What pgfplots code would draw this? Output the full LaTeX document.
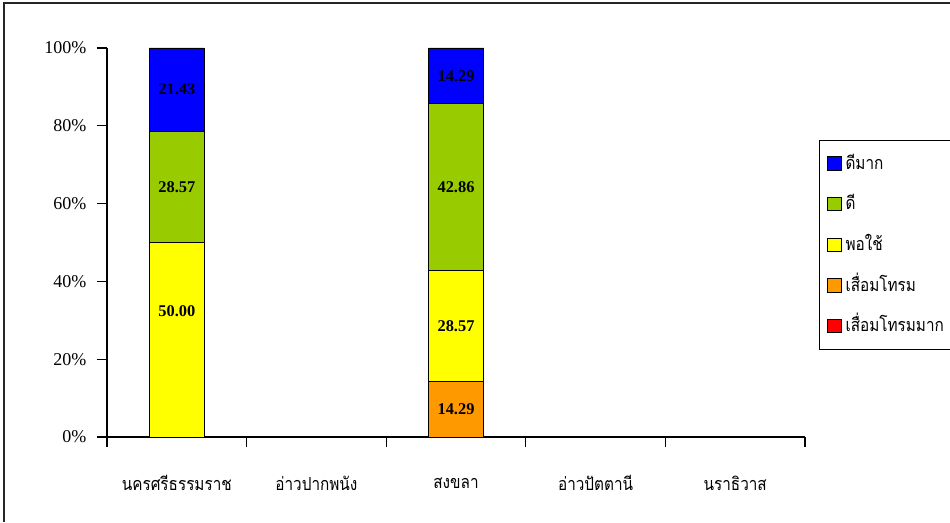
\documentclass[border=0pt]{standalone}
\usepackage{pgfplots}
\pgfplotsset{compat=1.18}
\usepackage{fontspec}
\setmainfont{Liberation Serif}
\newfontfamily\thaifont[Script=Thai, FakeStretch=0.85]{Loma}
\definecolor{cblue}{HTML}{0000FF}
\definecolor{cgreen}{HTML}{99CC00}
\definecolor{cyellow}{HTML}{FFFF00}
\definecolor{corange}{HTML}{FF9900}
\definecolor{cred}{HTML}{FF0000}
\begin{document}
\begin{tikzpicture}
\useasboundingbox (0,0) rectangle (712.5pt,391.5pt);
\draw[line width=1.2pt, black!85] (3pt,0pt) -- (3pt,389.25pt) -- (712.5pt,389.25pt);
\begin{axis}[
  at={(80.25pt,63.75pt)}, anchor=south west,
  scale only axis, width=523.5pt, height=291.75pt,
  ybar stacked, bar width=41.25pt,
  xmin=-0.5, xmax=4.5, ymin=0, ymax=100,
  enlargelimits=false,
  axis x line=bottom, axis y line=left,
  axis line style={-, black, line width=0.8pt},
  tick align=outside,
  major tick length=7.5pt,
  tick style={black, line width=0.8pt},
  ytick={0,20,40,60,80,100},
  yticklabels={0\%,20\%,40\%,60\%,80\%,100\%},
  yticklabel style={font=\fontsize{13.5}{16}\selectfont, xshift=-4.5pt},
  xtick={-0.5,0.5,1.5,2.5,3.5,4.5},
  xticklabels={,,,,,},
  extra x ticks={0,1,2,3,4},
  extra x tick labels={{\thaifont นครศรีธรรมราช},{\thaifont อ่าวปากพนัง},{\thaifont สงขลา},{\thaifont อ่าวปัตตานี},{\thaifont นราธิวาส}},
  extra x tick style={major tick length=0pt, tick label style={font=\fontsize{13.5}{16}\selectfont, anchor=center, yshift=-34.5pt}},
  reverse legend,
  legend style={at={(1.0201,0.7635)}, anchor=north west, draw=black, line width=0.6pt,
    font=\thaifont\fontsize{13.5}{16}\selectfont, row sep=12pt, inner xsep=6pt, inner ysep=8pt,
    nodes={inner ysep=2pt, inner xsep=3pt, text height=11.5pt, text depth=3pt}},
  legend cell align=left,
  legend image code/.code={\draw[#1, draw=black, line width=0.6pt] (0pt,-5pt) rectangle (10pt,5pt);},
  every axis plot/.append style={draw=black, line width=0.6pt},
]
\addplot[fill=cred] coordinates {(0,0) (1,0) (2,0) (3,0) (4,0)};
\addplot[fill=corange] coordinates {(0,0) (1,0) (2,14.29) (3,0) (4,0)};
\addplot[fill=cyellow] coordinates {(0,50.00) (1,0) (2,28.57) (3,0) (4,0)};
\addplot[fill=cgreen] coordinates {(0,28.57) (1,0) (2,42.86) (3,0) (4,0)};
\addplot[fill=cblue] coordinates {(0,21.43) (1,0) (2,14.29) (3,0) (4,0)};
\legend{เสื่อมโทรมมาก,เสื่อมโทรม,พอใช้,ดี,ดีมาก}
\end{axis}
\begin{axis}[
  at={(80.25pt,63.75pt)}, anchor=south west,
  scale only axis, width=523.5pt, height=291.75pt,
  xmin=-0.5, xmax=4.5, ymin=0, ymax=100,
  hide axis,
]
\addplot[draw=none, nodes near coords, point meta=explicit symbolic,
  nodes near coords align=center,
  every node near coord/.append style={anchor=center, font=\bfseries\fontsize{12.3}{14}\selectfont}]
  coordinates {(0,32.4)[50.00] (0,64.29)[28.57] (0,89.29)[21.43]
    (2,7.14)[14.29] (2,28.57)[28.57] (2,64.29)[42.86] (2,92.86)[14.29]};
\end{axis}
\end{tikzpicture}
\end{document}
